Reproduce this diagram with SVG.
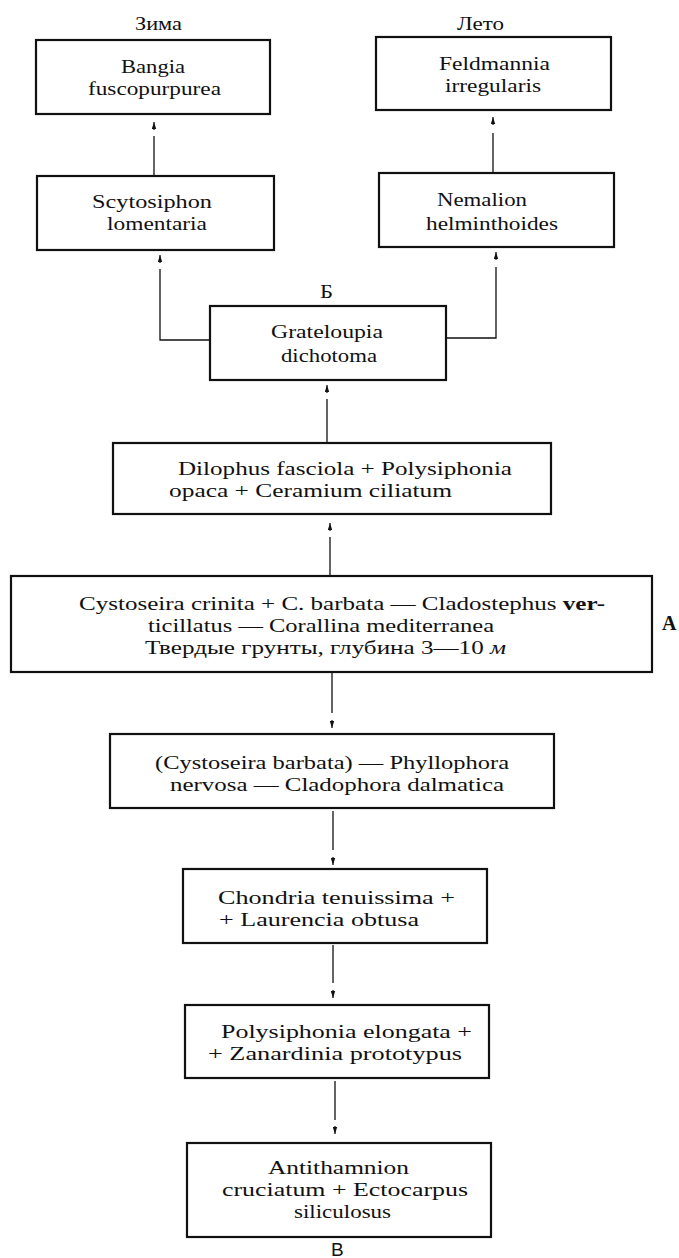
<svg xmlns="http://www.w3.org/2000/svg" width="679" height="1258" viewBox="0 0 679 1258">
<style>
.box{fill:none;stroke:#111;stroke-width:2.2}
.t{font-family:"Liberation Serif","Times New Roman",serif;font-size:19.5px;fill:#111}
.ln{fill:none;stroke:#111;stroke-width:1.3}
.hd{fill:none;stroke:#111;stroke-width:1.2}
</style>
<defs>
<marker id="ah" viewBox="0 0 7 5" refX="7" refY="2.5" markerWidth="7" markerHeight="5" markerUnits="userSpaceOnUse" orient="auto">
<path d="M0,0.3 L7,2.5 L0,4.7 Z" fill="#111"/>
</marker>
</defs>
<rect width="679" height="1258" fill="#fff"/>
<g id="labels">
<text class="t" x="135" y="30" textLength="47" lengthAdjust="spacingAndGlyphs">Зима</text>
<text class="t" x="457" y="30" textLength="47" lengthAdjust="spacingAndGlyphs">Лето</text>
<text class="t" x="320" y="298" textLength="13" lengthAdjust="spacingAndGlyphs">Б</text>
<text x="662" y="630" style="font-family:'Liberation Serif',serif;font-size:20px;font-weight:bold;fill:#111">A</text>
<text x="331" y="1256" style="font-family:'Liberation Sans',sans-serif;font-size:19px;fill:#111">B</text>
</g>
<g id="n-bangia">
<rect class="box" x="36" y="40" width="234" height="74"/>
<text class="t" x="121" y="73" textLength="64" lengthAdjust="spacingAndGlyphs">Bangia</text>
<text class="t" x="88" y="95" textLength="133" lengthAdjust="spacingAndGlyphs">fuscopurpurea</text>
</g>
<g id="n-feldmannia">
<rect class="box" x="376" y="37" width="235" height="73"/>
<text class="t" x="439" y="69.5" textLength="111" lengthAdjust="spacingAndGlyphs">Feldmannia</text>
<text class="t" x="445" y="91.5" textLength="96" lengthAdjust="spacingAndGlyphs">irregularis</text>
</g>
<g id="n-scytosiphon">
<rect class="box" x="37" y="176" width="237" height="74"/>
<text class="t" x="92" y="208" textLength="120" lengthAdjust="spacingAndGlyphs">Scytosiphon</text>
<text class="t" x="107" y="230" textLength="100" lengthAdjust="spacingAndGlyphs">lomentaria</text>
</g>
<g id="n-nemalion">
<rect class="box" x="379" y="173" width="235" height="74"/>
<text class="t" x="437" y="205.5" textLength="90" lengthAdjust="spacingAndGlyphs">Nemalion</text>
<text class="t" x="426" y="229.5" textLength="132" lengthAdjust="spacingAndGlyphs">helminthoides</text>
</g>
<g id="n-grateloupia">
<rect class="box" x="210" y="306" width="236" height="74"/>
<text class="t" x="271" y="337.5" textLength="112" lengthAdjust="spacingAndGlyphs">Grateloupia</text>
<text class="t" x="281" y="361.5" textLength="96" lengthAdjust="spacingAndGlyphs">dichotoma</text>
</g>
<g id="n-dilophus">
<rect class="box" x="113" y="443" width="438" height="71"/>
<text class="t" x="178" y="474.5" textLength="334" lengthAdjust="spacingAndGlyphs">Dilophus  fasciola + Polysiphonia</text>
<text class="t" x="169" y="496.5" textLength="283" lengthAdjust="spacingAndGlyphs">opaca + Ceramium ciliatum</text>
</g>
<g id="n-cystoseira">
<rect class="box" x="11" y="576" width="641" height="96"/>
<text class="t" x="79" y="609.5" textLength="526" lengthAdjust="spacingAndGlyphs">Cystoseira crinita + C. barbata — Cladostephus <tspan font-weight="bold">ver-</tspan></text>
<text class="t" x="148" y="631.5" textLength="346" lengthAdjust="spacingAndGlyphs">ticillatus — Corallina mediterranea</text>
<text class="t" x="145" y="653.5" textLength="361" lengthAdjust="spacingAndGlyphs">Твердые грунты, глубина 3—10 <tspan font-style="italic">м</tspan></text>
</g>
<g id="n-phyllophora">
<rect class="box" x="110" y="734" width="444" height="74"/>
<text class="t" x="155" y="768.5" textLength="354" lengthAdjust="spacingAndGlyphs">(Cystoseira barbata) — Phyllophora</text>
<text class="t" x="170" y="790.5" textLength="334" lengthAdjust="spacingAndGlyphs">nervosa — Cladophora dalmatica</text>
</g>
<g id="n-chondria">
<rect class="box" x="183" y="869" width="304" height="74"/>
<text class="t" x="218" y="903.5" textLength="237" lengthAdjust="spacingAndGlyphs">Chondria tenuissima +</text>
<text class="t" x="219" y="925.5" textLength="200" lengthAdjust="spacingAndGlyphs">+ Laurencia obtusa</text>
</g>
<g id="n-polysiphonia">
<rect class="box" x="185" y="1005" width="304" height="73"/>
<text class="t" x="221" y="1037.5" textLength="251" lengthAdjust="spacingAndGlyphs">Polysiphonia elongata +</text>
<text class="t" x="208" y="1059.5" textLength="254" lengthAdjust="spacingAndGlyphs">+ Zanardinia prototypus</text>
</g>
<g id="n-antithamnion">
<rect class="box" x="187" y="1143" width="304" height="94"/>
<text class="t" x="268" y="1173.5" textLength="141" lengthAdjust="spacingAndGlyphs">Antithamnion</text>
<text class="t" x="222" y="1195.5" textLength="246" lengthAdjust="spacingAndGlyphs">cruciatum + Ectocarpus</text>
<text class="t" x="294" y="1217.5" textLength="97" lengthAdjust="spacingAndGlyphs">siliculosus</text>
</g>
<g id="connectors">
<path class="ln" d="M154,175 V136"/>
<path class="hd" d="M154,130 V122" marker-end="url(#ah)"/>
<path class="ln" d="M493,172 V133"/>
<path class="hd" d="M493,125 V117" marker-end="url(#ah)"/>
<path class="ln" d="M209,340 H160 V269"/>
<path class="hd" d="M160,263 V255" marker-end="url(#ah)"/>
<path class="ln" d="M447,338 H496 V267"/>
<path class="hd" d="M496,260 V252" marker-end="url(#ah)"/>
<path class="ln" d="M327,443 V399"/>
<path class="hd" d="M327,393 V385" marker-end="url(#ah)"/>
<path class="ln" d="M330,576 V537"/>
<path class="hd" d="M330,531 V523" marker-end="url(#ah)"/>
<path class="ln" d="M332,672 V713"/>
<path class="hd" d="M332,720 V728" marker-end="url(#ah)"/>
<path class="ln" d="M333,811 V850"/>
<path class="hd" d="M333,857 V865" marker-end="url(#ah)"/>
<path class="ln" d="M333,945 V983"/>
<path class="hd" d="M333,990 V998" marker-end="url(#ah)"/>
<path class="ln" d="M335,1081 V1120"/>
<path class="hd" d="M335,1126 V1134" marker-end="url(#ah)"/>
</g>
</svg>
